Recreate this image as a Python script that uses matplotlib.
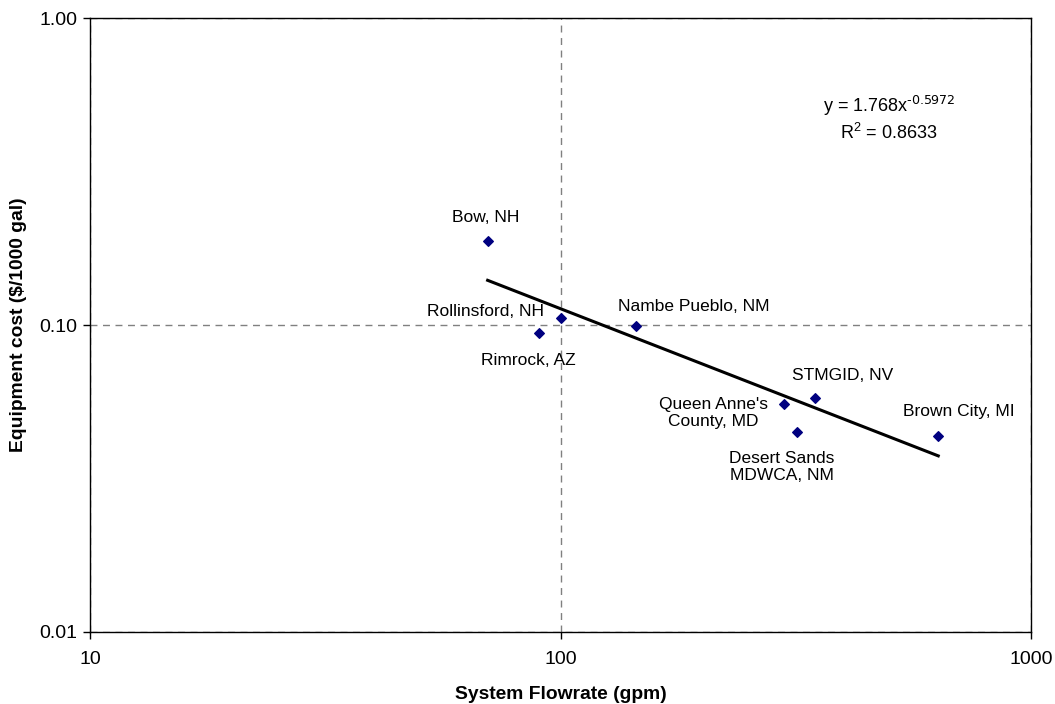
import matplotlib
matplotlib.use("Agg")
import matplotlib.pyplot as plt
import numpy as np
from matplotlib.ticker import FixedLocator, FixedFormatter, NullLocator

plt.rcParams['font.family'] = ['Liberation Sans', 'DejaVu Sans']
plt.rcParams['mathtext.default'] = 'regular'

# System data
sites = ['Bow, NH', 'Rollinsford, NH', 'Rimrock, AZ', 'Nambe Pueblo, NM',
         "Queen Anne's\nCounty, MD", 'STMGID, NV', 'Desert Sands\nMDWCA, NM',
         'Brown City, MI']
flowrate = [70, 100, 90, 145, 298, 347, 318, 635]
cost = [0.188, 0.105, 0.094, 0.099, 0.0554, 0.0577, 0.0449, 0.0436]

# label offsets from each point, in pixels
offsets = [(-2, 23), (-75, 7), (-11, -27), (57, 20), (-70, -9), (28, 23), (-15, -35), (21, 24)]

# power-law fit
coef_a = 1.768
coef_b = -0.5972
r2 = 0.8633

fig, ax = plt.subplots(figsize=(10.55, 7.04), dpi=100)
fig.subplots_adjust(left=0.0853, right=0.9773, bottom=0.1023, top=0.9744)

ax.set_xscale('log')
ax.set_yscale('log')
ax.set_xlim(10, 1000)
ax.set_ylim(0.01, 1)

ax.xaxis.set_major_locator(FixedLocator([10, 100, 1000]))
ax.xaxis.set_major_formatter(FixedFormatter(['10', '100', '1000']))
ax.yaxis.set_major_locator(FixedLocator([0.01, 0.1, 1]))
ax.yaxis.set_major_formatter(FixedFormatter(['0.01', '0.10', '1.00']))
ax.xaxis.set_minor_locator(NullLocator())
ax.yaxis.set_minor_locator(NullLocator())
ax.tick_params(labelsize=14, length=5, width=1)
ax.tick_params(axis='x', pad=9)
ax.tick_params(axis='y', pad=4)

ax.grid(True, which='major', color='#808080', linestyle=(0, (5, 4)), linewidth=1)
ax.set_axisbelow(True)

for s in ax.spines.values():
    s.set_linewidth(1)

# trend line
xfit = np.linspace(min(flowrate), max(flowrate), 100)
ax.plot(xfit, coef_a * xfit ** coef_b, color='black', linewidth=2.2, zorder=3)

ax.scatter(flowrate, cost, marker='D', s=24, color='#000080', zorder=4)

for name, xv, yv, (dx, dy) in zip(sites, flowrate, cost, offsets):
    ax.annotate(name, (xv, yv), xytext=(dx, dy), textcoords='offset pixels',
                ha='center', va='center', fontsize=12.5, linespacing=1.15)

eq = f'y = {coef_a}x$^{{\\text{{{coef_b}}}}}$\nR$^{{2}}$ = {r2}'
ax.text(0.849, 0.836, eq, transform=ax.transAxes, ha='center', va='center',
        fontsize=13, linespacing=1.3)

ax.set_xlabel('System Flowrate (gpm)', fontsize=13.9, fontweight='bold')
ax.set_ylabel('Equipment cost ($/1000 gal)', fontsize=13.9, fontweight='bold')
ax.xaxis.set_label_coords(0.5, -0.1026)
ax.yaxis.set_label_coords(-0.0765, 0.5)
ax.xaxis.label.set_va('center')
ax.yaxis.label.set_va('center')

fig.savefig('out.png', dpi=100)
